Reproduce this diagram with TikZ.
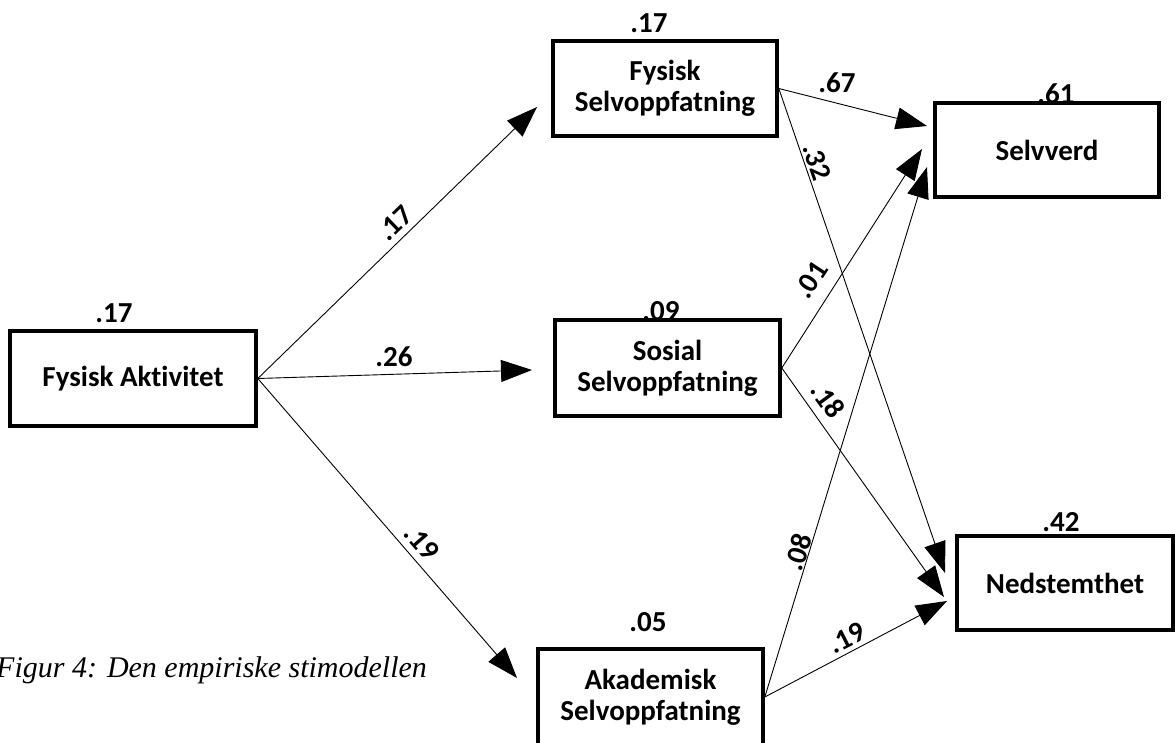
\documentclass[tikz,border=0pt]{standalone}
\usepackage{fontspec}
\setmainfont{Carlito}[Ligatures={NoCommon}]
\newfontfamily\capfont{Liberation Serif}
\usetikzlibrary{arrows.meta}
\newcommand\labfont{\bfseries\fontsize{29}{31}\selectfont}
\begin{document}
\begin{tikzpicture}[x=1pt,y=-1pt,
  box/.style={draw, line width=3.6pt, fill=none, inner sep=0pt, align=center, font=\labfont},
  num/.style={font=\labfont, inner sep=0pt},
  arr/.style={line width=0.9pt, -{Triangle[length=31pt,width=22pt]}}]
\useasboundingbox (0,0) rectangle (1175,742);
\clip (0,0) rectangle (1175,742);
% variance labels (drawn first, boxes overlay them)
\node[num] (nfa) at (114,313) {.17};
\node[num] (nfs) at (649,23) {.17};
\node[num] (nsv) at (1056,94) {.61};
\node[num] (nss) at (661,311) {.09};
\node[num] (nnd) at (1061,522) {.42};
\node[num] (nas) at (648,622) {.05};
% boxes
\node[box, minimum width=246pt, minimum height=95pt] (fa) at (133,378.5) {Fysisk Aktivitet};
\node[box, minimum width=224pt, minimum height=95pt] (fs) at (665,88.5) {Fysisk\\Selvoppfatning};
\node[box, minimum width=224pt, minimum height=94pt] (sv) at (1047,150) {Selvverd};
\node[box, minimum width=225pt, minimum height=96pt] (ss) at (667.5,368) {Sosial\\Selvoppfatning};
\node[box, minimum width=216pt, minimum height=94pt] (nd) at (1065,583) {Nedstemthet};
\node[box, minimum width=225pt, minimum height=96pt] (as) at (650.5,697) {Akademisk\\Selvoppfatning};
% caption
\node[anchor=base west, inner sep=0pt, font=\capfont\itshape\fontsize{30}{32}\selectfont] (cap) at (-4,677) {Figur 4: Den empiriske stimodellen};
% arrow tips
\coordinate (t1) at (537,107);
\coordinate (t2) at (532,370);
\coordinate (t3) at (517,678);
\coordinate (t4) at (927,126);
\coordinate (t5) at (945,573);
\coordinate (t6) at (922,149);
\coordinate (t7) at (944,597);
\coordinate (t8) at (927,167);
\coordinate (t9) at (947,601);
% connectors
\draw[arr] (fa.east) -- (t1);
\draw[arr] (fa.east) -- (t2);
\draw[arr] (fa.east) -- (t3);
\draw[arr] (fs.east) -- (t4);
\draw[arr] (fs.east) -- (t5);
\draw[arr] (ss.east) -- (t6);
\draw[arr] (ss.east) -- (t7);
\draw[arr] (as.east) -- (t8);
\draw[arr] (as.east) -- (t9);
% path coefficients
\node[num, rotate=44] (c1) at (395,223) {.17};
\node[num] (c2) at (394,357) {.26};
\node[num, rotate=-48.8] (c3) at (422,542) {.19};
\node[num] (c4) at (837,83) {.67};
\node[num, rotate=-71] (c5) at (817,162) {.32};
\node[num, rotate=56.7] (c6) at (811,280) {.01};
\node[num, rotate=-54] (c7) at (828,400) {.18};
\node[num, rotate=72.8] (c8) at (798,552) {.08};
\node[num, rotate=27] (c9) at (847,638) {.19};
\end{tikzpicture}
\end{document}
